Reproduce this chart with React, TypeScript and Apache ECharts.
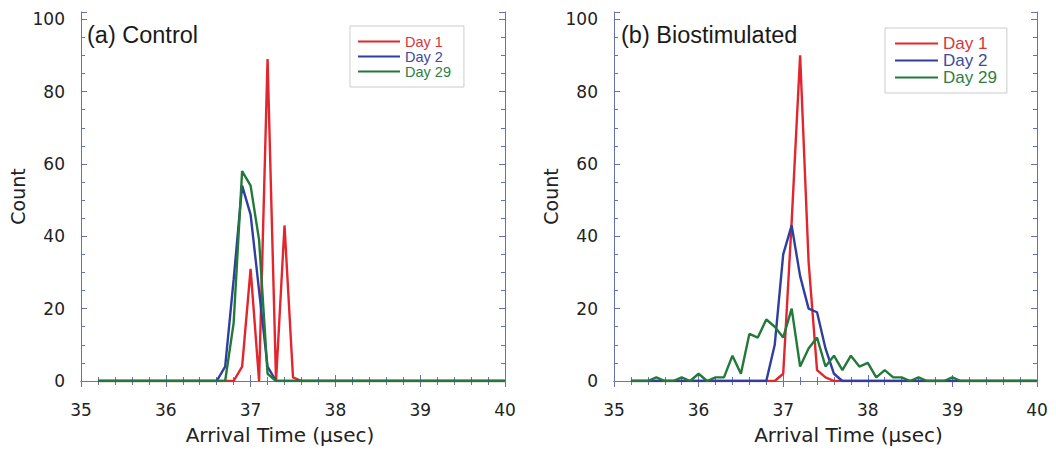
import React, { useEffect, useRef } from "react";
import * as echarts from "echarts";

// Bin centres (µs)
const bins = [
  35.2, 35.3, 35.4, 35.5, 35.6, 35.7, 35.8, 35.9, 36.0, 36.1,
  36.2, 36.3, 36.4, 36.5, 36.6, 36.7, 36.8, 36.9, 37.0, 37.1,
  37.2, 37.3, 37.4, 37.5, 37.6, 37.7, 37.8, 37.9, 38.0, 38.1,
  38.2, 38.3, 38.4, 38.5, 38.6, 38.7, 38.8, 38.9, 39.0, 39.1,
  39.2, 39.3, 39.4, 39.5, 39.6, 39.7, 39.8, 39.9, 40.0,
];

// (a) Control
const controlDay1 = [
  0, 0, 0, 0, 0, 0, 0, 0, 0, 0,
  0, 0, 0, 0, 0, 0, 0, 4, 31, 0,
  89, 0, 43, 1, 0, 0, 0, 0, 0, 0,
  0, 0, 0, 0, 0, 0, 0, 0, 0, 0,
  0, 0, 0, 0, 0, 0, 0, 0, 0,
];
const controlDay2 = [
  0, 0, 0, 0, 0, 0, 0, 0, 0, 0,
  0, 0, 0, 0, 0, 4, 28, 54, 46, 25,
  4, 0, 0, 0, 0, 0, 0, 0, 0, 0,
  0, 0, 0, 0, 0, 0, 0, 0, 0, 0,
  0, 0, 0, 0, 0, 0, 0, 0, 0,
];
const controlDay29 = [
  0, 0, 0, 0, 0, 0, 0, 0, 0, 0,
  0, 0, 0, 0, 0, 0, 16, 58, 54, 39,
  2, 0, 0, 0, 0, 0, 0, 0, 0, 0,
  0, 0, 0, 0, 0, 0, 0, 0, 0, 0,
  0, 0, 0, 0, 0, 0, 0, 0, 0,
];

// (b) Biostimulated
const bioDay1 = [
  0, 0, 0, 0, 0, 0, 0, 0, 0, 0,
  0, 0, 0, 0, 0, 0, 0, 0, 2, 44,
  90, 33, 3, 1, 0, 0, 0, 0, 0, 0,
  0, 0, 0, 0, 0, 0, 0, 0, 0, 0,
  0, 0, 0, 0, 0, 0, 0, 0, 0,
];
const bioDay2 = [
  0, 0, 0, 0, 0, 0, 0, 0, 0, 0,
  0, 0, 0, 0, 0, 0, 0, 10, 35, 43,
  29, 20, 19, 9, 2, 0, 0, 0, 0, 0,
  0, 0, 0, 0, 0, 0, 0, 0, 0, 0,
  0, 0, 0, 0, 0, 0, 0, 0, 0,
];
const bioDay29 = [
  0, 0, 0, 1, 0, 0, 1, 0, 2, 0,
  1, 1, 7, 2, 13, 12, 17, 15, 12, 20,
  4, 9, 12, 4, 7, 3, 7, 4, 5, 1,
  3, 1, 1, 0, 1, 0, 0, 0, 1, 0,
  0, 0, 0, 0, 0, 0, 0, 0, 0,
];

const xTicks = [35, 36, 37, 38, 39, 40];
const yTicks = [0, 20, 40, 60, 80, 100];
const seriesNames = ["Day 1", "Day 2", "Day 29"];
const panelTitles = ["(a) Control", "(b) Biostimulated"];

const LINE_COLORS = ["#e3262d", "#2f3f9e", "#23793a"];
const TEXT_COLORS = ["#d8343a", "#3a4ba0", "#2f7d44"];
const AXIS_COLOR = "#6573b5";
const TICK_FONT = "DejaVu Sans";

const pairs = (ys: number[]) => bins.map((x, i) => [x, ys[i]]);

function xAxisDef(gridIndex: number, top: boolean, namePad: number[]) {
  return {
    type: "value",
    gridIndex,
    position: top ? "top" : "bottom",
    min: xTicks[0],
    max: xTicks[xTicks.length - 1],
    interval: 1,
    name: top ? "" : "Arrival Time (μsec)",
    nameLocation: "middle",
    nameGap: 44,
    nameTextStyle: { fontFamily: TICK_FONT, fontSize: 20, color: "#222", padding: namePad },
    axisLine: { show: true, lineStyle: { color: AXIS_COLOR, width: 1 } },
    axisTick: { show: true, inside: true, length: 6, lineStyle: { color: AXIS_COLOR } },
    minorTick: { show: true, splitNumber: 5, length: 4, lineStyle: { color: AXIS_COLOR } },
    splitLine: { show: false },
    axisLabel: {
      show: !top,
      margin: 20,
      fontFamily: TICK_FONT,
      fontSize: 17,
      color: "#222",
      formatter: (v: number) => (xTicks.includes(v) ? String(v) : ""),
    },
  };
}

function yAxisDef(gridIndex: number, right: boolean) {
  return {
    type: "value",
    gridIndex,
    position: right ? "right" : "left",
    min: 0,
    max: 102,
    interval: 20,
    name: right ? "" : "Count",
    nameLocation: "middle",
    nameGap: 54,
    nameTextStyle: { fontFamily: TICK_FONT, fontSize: 19, color: "#222" },
    axisLine: { show: true, lineStyle: { color: AXIS_COLOR, width: 1 } },
    axisTick: { show: true, inside: true, length: 6, lineStyle: { color: AXIS_COLOR } },
    minorTick: { show: true, splitNumber: 4, length: 4, lineStyle: { color: AXIS_COLOR } },
    splitLine: { show: false },
    axisLabel: {
      show: !right,
      margin: 16,
      fontFamily: TICK_FONT,
      fontSize: 17,
      color: "#222",
      showMaxLabel: false,
      formatter: (v: number) => (yTicks.includes(v) ? String(v) : ""),
    },
  };
}

function lineSeries(name: string, ys: number[], colorIdx: number, panel: number) {
  return {
    type: "line",
    name,
    xAxisIndex: panel * 2,
    yAxisIndex: panel * 2,
    data: pairs(ys),
    showSymbol: false,
    symbol: "none",
    lineStyle: { color: LINE_COLORS[colorIdx], width: 2.4 },
    itemStyle: { color: LINE_COLORS[colorIdx] },
    z: 3 + colorIdx,
  };
}

function legendDef(
  left: number,
  top: number,
  pad: number[],
  itemWidth: number,
  fontSize: number,
  gap: number
) {
  return {
    left,
    top,
    orient: "vertical",
    icon: "rect",
    itemWidth,
    itemHeight: 2,
    itemGap: gap,
    padding: pad,
    backgroundColor: "#ffffff",
    borderColor: "#cccccc",
    borderWidth: 1,
    selectedMode: false,
    data: seriesNames.map((n, i) => ({
      name: n,
      textStyle: { color: TEXT_COLORS[i], fontFamily: "Liberation Sans", fontSize },
    })),
  };
}

export default function App() {
  const ref = useRef<HTMLDivElement>(null);
  useEffect(() => {
    if (!ref.current) return;
    const chart = echarts.init(ref.current, undefined, { renderer: "svg" });
    chart.setOption({
      animation: false,
      backgroundColor: "#ffffff",
      grid: [
        { left: 81, right: 551, top: 12, bottom: 71 },
        { left: 614, right: 19, top: 12, bottom: 71 },
      ],
      title: [
        {
          text: panelTitles[0],
          left: 87,
          top: 23,
          padding: 0,
          textStyle: { fontFamily: "Liberation Sans", fontSize: 23.5, fontWeight: "normal", color: "#1a1a1a" },
        },
        {
          text: panelTitles[1],
          left: 621,
          top: 23,
          padding: 0,
          textStyle: { fontFamily: "Liberation Sans", fontSize: 23.5, fontWeight: "normal", color: "#1a1a1a" },
        },
      ],
      legend: [
        legendDef(350, 26, [8, 13, 8, 8], 42, 14.5, 0),
        legendDef(885, 28, [7, 10, 7, 10], 43, 17, 0),
      ],
      xAxis: [
        xAxisDef(0, false, [0, 26, 0, 0]),
        xAxisDef(0, true, [0, 0, 0, 0]),
        xAxisDef(1, false, [0, 0, 0, 46]),
        xAxisDef(1, true, [0, 0, 0, 0]),
      ],
      yAxis: [yAxisDef(0, false), yAxisDef(0, true), yAxisDef(1, false), yAxisDef(1, true)],
      series: [
        lineSeries(seriesNames[0], controlDay1, 0, 0),
        lineSeries(seriesNames[1], controlDay2, 1, 0),
        lineSeries(seriesNames[2], controlDay29, 2, 0),
        lineSeries(seriesNames[0], bioDay1, 0, 1),
        lineSeries(seriesNames[1], bioDay2, 1, 1),
        lineSeries(seriesNames[2], bioDay29, 2, 1),
      ],
    });
    return () => chart.dispose();
  }, []);
  return (
    <div
      ref={ref}
      style={{ position: "fixed", left: 0, top: 0, width: 1056, height: 452, background: "#fff" }}
    />
  );
}
